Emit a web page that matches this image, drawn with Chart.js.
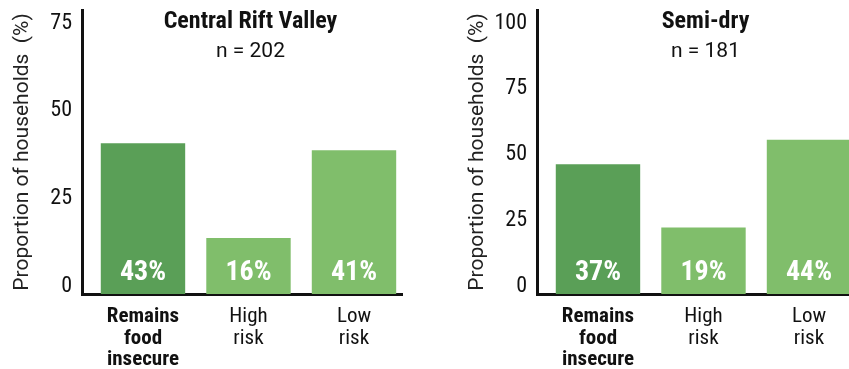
<!DOCTYPE html>
<html lang="en">
<head>
  <meta charset="UTF-8" />
  <title>Food security outlook by zone</title>
  <script src="https://cdn.jsdelivr.net/npm/chart.js"></script>
  <style>
    html, body {
      margin: 0;
      padding: 0;
      background: #ffffff;
      overflow: hidden;
      width: 849px;
      height: 369px;
    }
    .panel {
      position: absolute;
      top: 0;
      width: 430px;
      height: 369px;
    }
    #panelRift { left: 0; }
    #panelSemiDry { left: 455px; }
  </style>
</head>
<body>
  <div class="panel" id="panelRift"><canvas id="chartRift" width="430" height="369"></canvas></div>
  <div class="panel" id="panelSemiDry"><canvas id="chartSemiDry" width="430" height="369"></canvas></div>

  <script>
    // categories and shares of households (%)
    const categories = [['Remains', 'food', 'insecure'], ['High', 'risk'], ['Low', 'risk']];
    const riftValues = [43, 16, 41];
    const semiDryValues = [37, 19, 44];

    // printed y tick labels; both panels share the same bar scale (0 - 75 over the tick span)
    const riftTickLabels = [0, 25, 50, 75];
    const semiDryTickLabels = [0, 25, 50, 75, 100];
    const TICK_SPAN = 75;

    const NARROW = '"Roboto Condensed", Roboto, sans-serif';
    const REGULAR = 'Roboto, "Liberation Sans", sans-serif';
    const DARK_GREEN = '#5a9f57';
    const LIGHT_GREEN = '#80be6b';
    const INK = '#111111';

    // title, sample size and the white percentages at the foot of each bar
    const panelText = {
      id: 'panelText',
      afterDatasetsDraw(chart, args, opts) {
        const { ctx, chartArea, scales } = chart;
        const cx = scales.x.getPixelForValue(1) + 2;
        ctx.save();
        ctx.textAlign = 'center';
        ctx.textBaseline = 'middle';
        ctx.fillStyle = INK;
        ctx.font = 'bold 24px ' + NARROW;
        ctx.fillText(opts.title, cx, chartArea.top + 12);
        ctx.font = '21px ' + REGULAR;
        ctx.fillText('n = ' + opts.n, cx, chartArea.top + 42);

        ctx.fillStyle = '#ffffff';
        ctx.font = 'bold 28px ' + NARROW;
        const ds = chart.data.datasets[0];
        chart.getDatasetMeta(0).data.forEach((bar, i) => {
          ctx.fillText(ds.data[i].y + '%', bar.x, bar.base - 21);
        });
        ctx.restore();
      }
    };

    function makeChart(canvasId, title, n, values, tickLabels) {
      const tickStep = TICK_SPAN / (tickLabels.length - 1);
      return new Chart(document.getElementById(canvasId), {
        type: 'bar',
        data: {
          datasets: [{
            data: values.map((v, i) => ({ x: i, y: v })),
            backgroundColor: values.map((v, i) => i === 0 ? DARK_GREEN : LIGHT_GREEN),
            borderWidth: 0,
            categoryPercentage: 1,
            barPercentage: 0.8
          }]
        },
        options: {
          responsive: false,
          animation: false,
          layout: { padding: { top: 10, right: 28, left: 0, bottom: 0 } },
          plugins: {
            legend: { display: false },
            tooltip: { enabled: false },
            panelText: { title: title, n: n }
          },
          scales: {
            x: {
              type: 'linear',
              offset: false,
              min: -0.578,
              max: 2.455,
              grid: { display: false, drawTicks: false },
              border: { display: true, width: 3, color: INK },
              afterBuildTicks: (scale) => {
                scale.ticks = categories.map((c, i) => ({ value: i }));
              },
              afterFit: (scale) => {
                scale.height = 75;
                scale.paddingLeft = 0;
                scale.paddingRight = 0;
              },
              ticks: {
                autoSkip: false,
                maxRotation: 0,
                minRotation: 0,
                padding: 12,
                color: INK,
                font: (ctx) => ({
                  family: NARROW,
                  size: 21,
                  weight: ctx.index === 0 ? 'bold' : 'normal',
                  lineHeight: '21.5px'
                }),
                callback: (value) => categories[value]
              }
            },
            y: {
              min: 0,
              max: 81,
              grid: { display: false, drawTicks: false },
              border: { display: true, width: 3, color: INK },
              afterBuildTicks: (scale) => {
                scale.ticks = tickLabels.map((t, i) => ({ value: i * tickStep }));
              },
              afterFit: (scale) => {
                scale.width = 82;
                scale.paddingTop = 0;
                scale.paddingBottom = 0;
              },
              ticks: {
                padding: 10,
                labelOffset: -8,
                color: INK,
                font: { family: NARROW, size: 22 },
                callback: (value, index) => tickLabels[index]
              },
              title: {
                display: true,
                text: 'Proportion of households  (%)',
                color: '#222222',
                font: { family: REGULAR, size: 21 },
                padding: { top: 10, bottom: 0 }
              }
            }
          }
        },
        plugins: [panelText]
      });
    }

    makeChart('chartRift', 'Central Rift Valley', 202, riftValues, riftTickLabels);
    makeChart('chartSemiDry', 'Semi-dry', 181, semiDryValues, semiDryTickLabels);
  </script>
</body>
</html>
